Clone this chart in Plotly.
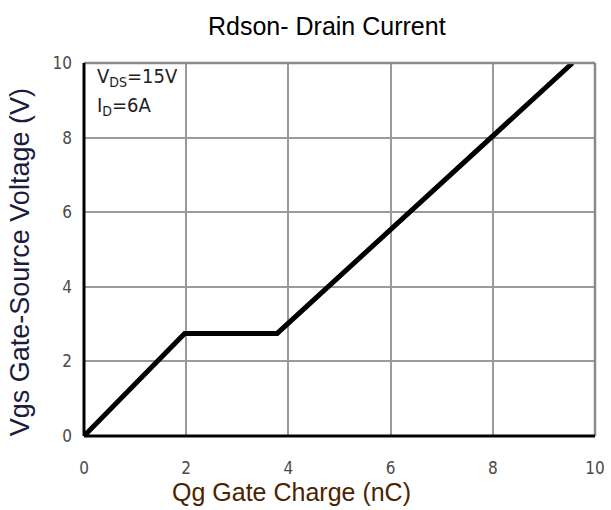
import plotly.graph_objects as go

# Data
qg_nc = [0.0, 1.97, 3.78, 9.56]
vgs_v = [0.0, 2.75, 2.75, 10.0]
x_ticks = [0, 2, 4, 6, 8, 10]
y_ticks = [0, 2, 4, 6, 8, 10]

NARROW = "Liberation Sans Narrow, Arial Narrow, DejaVu Sans Condensed, Liberation Sans, Arial, sans-serif"
SANS = "Liberation Sans, Arial, sans-serif"

L, R, T, B = 84, 6, 63, 74
W, H = 611, 510
PW, PH = W - L - R, H - T - B


def px_x(px):
    return (px - L) / PW


def px_y(py):
    return (H - B - py) / PH


fig = go.Figure()
fig.add_trace(go.Scatter(x=qg_nc, y=vgs_v, mode="lines",
                         line=dict(color="black", width=5), showlegend=False,
                         hoverinfo="skip"))

fig.update_layout(
    width=W, height=H,
    margin=dict(l=L, r=R, t=T, b=B),
    paper_bgcolor="white", plot_bgcolor="white",
    xaxis=dict(range=[0, 10], tickvals=x_ticks, showgrid=True, gridcolor="#9a9a9a",
               gridwidth=1.8, zeroline=False, showline=False, ticks="",
               tickfont=dict(family=NARROW, size=17, color="#4a4a4a"),
               ticklabelstandoff=20, ticklabeloverflow="allow"),
    yaxis=dict(range=[0, 10], tickvals=y_ticks, showgrid=True, gridcolor="#9a9a9a",
               gridwidth=1.8, zeroline=False, showline=False, ticks="",
               tickfont=dict(family=NARROW, size=17, color="#4a4a4a"),
               ticklabelstandoff=11, ticklabeloverflow="allow"),
)

# Frame: gray top/right, black left/bottom
fig.add_shape(type="line", xref="paper", yref="paper", x0=0, x1=1, y0=1, y1=1,
              line=dict(color="#8a8a8a", width=2.5))
fig.add_shape(type="line", xref="paper", yref="paper", x0=1, x1=1, y0=0, y1=1,
              line=dict(color="#8a8a8a", width=2.5))
fig.add_shape(type="line", xref="paper", yref="paper", x0=0, x1=1, y0=0, y1=0,
              line=dict(color="black", width=3))
fig.add_shape(type="line", xref="paper", yref="paper", x0=0, x1=0, y0=0, y1=1,
              line=dict(color="black", width=3))

# Chart title
fig.add_annotation(text="Rdson- Drain Current", xref="paper", yref="paper",
                   x=px_x(332), y=px_y(26), xanchor="center", yanchor="middle",
                   showarrow=False, font=dict(family=SANS, size=25, color="black"))
# Axis titles
fig.add_annotation(text="Qg Gate Charge (nC)", xref="paper", yref="paper",
                   x=px_x(296), y=px_y(492), xanchor="center", yanchor="middle",
                   showarrow=False, font=dict(family=SANS, size=25, color="#4a2400"))
fig.add_annotation(text="Vgs Gate-Source Voltage (V)", xref="paper", yref="paper",
                   x=px_x(19), y=px_y(262), xanchor="center", yanchor="middle",
                   textangle=-90, showarrow=False,
                   font=dict(family=SANS, size=27, color="#1c1c3c"))

# Test conditions
fig.add_annotation(text="V<sub>DS</sub>=15V", xref="paper", yref="paper",
                   x=0.022, y=0.963, xanchor="left", yanchor="middle", showarrow=False,
                   align="left", font=dict(family=NARROW, size=20, color="#222222"))
fig.add_annotation(text="I<sub>D</sub>=6A", xref="paper", yref="paper",
                   x=0.022, y=0.885, xanchor="left", yanchor="middle", showarrow=False,
                   align="left", font=dict(family=NARROW, size=20, color="#222222"))

fig.write_html(
    "out.html", config={"displayModeBar": False},
    post_script=(
        "document.documentElement.style.overflow='hidden';"
        "document.body.style.margin='0';document.body.style.overflow='hidden';"
        "var d=document.getElementsByClassName('plotly-graph-div')[0];"
        "d.style.overflow='hidden';d.parentNode.style.overflow='hidden';"
        "d.parentNode.style.width='611px';"
    ),
)
